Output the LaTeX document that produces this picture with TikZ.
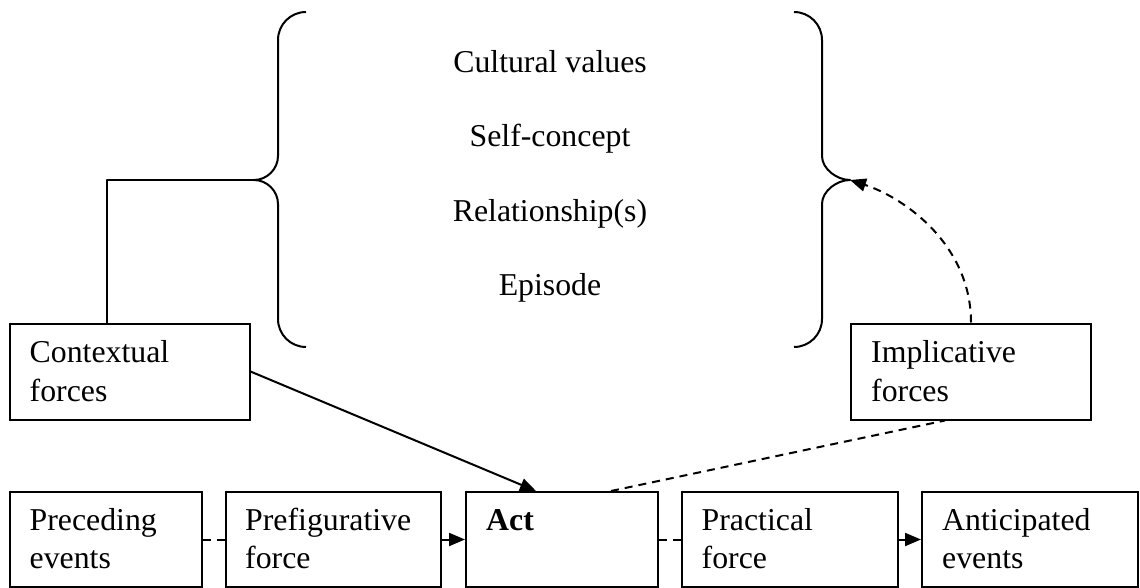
\documentclass[tikz,border=0pt]{standalone}
\usepackage{fontspec}
\setmainfont{Liberation Serif}
\usetikzlibrary{arrows.meta}
% text block whose first baseline sits 24pt below its top edge
\newcommand\boxtext[1]{\parbox[t]{230pt}{\rule{0pt}{24pt}#1}}
\begin{document}
\begin{tikzpicture}[x=1pt,y=-1pt,
  frame/.style={draw, line width=2pt, inner sep=0pt, minimum height=95pt},
  lbl/.style={anchor=north west, inner sep=0pt, font=\fontsize{31.8}{38.5}\selectfont},
  item/.style={anchor=base, inner sep=0pt, font=\fontsize{31.8}{38}\selectfont},
  conn/.style={line width=2pt, line join=round},
  dashline/.style={conn, dash pattern=on 8pt off 6pt},
  arrowed/.style={-{Triangle[length=16pt,width=13pt]}},
]
\useasboundingbox (0,0) rectangle (1140,588);

% force boxes
\node[frame, minimum width=240pt, minimum height=96pt] (ctx)  at (129.5,371.5) {};
\node[frame, minimum width=240pt, minimum height=96pt] (impl) at (971,371.5)   {};

% sequence of events along the bottom
\node[frame, minimum width=192pt] (prec) at (105.5,539.5) {};
\node[frame, minimum width=215pt] (pref) at (333.5,539.5) {};
\node[frame, minimum width=192pt] (act)  at (562,539.5)   {};
\node[frame, minimum width=216pt] (prac) at (790,539.5)   {};
\node[frame, minimum width=216pt] (anti) at (1030,539.5)  {};

% box captions
\node[lbl] (ctxT)  at ([xshift=21pt,yshift=-16pt]ctx.north west)  {\boxtext{Contextual\\forces}};
\node[lbl] (implT) at ([xshift=21pt,yshift=-16pt]impl.north west) {\boxtext{Implicative\\forces}};
\node[lbl] (precT) at ([xshift=21pt,yshift=-15pt]prec.north west) {\boxtext{Preceding\\events}};
\node[lbl] (prefT) at ([xshift=20pt,yshift=-15pt]pref.north west) {\boxtext{Prefigurative\\force}};
\node[lbl] (actT)  at ([xshift=21pt,yshift=-15pt]act.north west)  {\boxtext{\textbf{Act}}};
\node[lbl] (pracT) at ([xshift=20.5pt,yshift=-15pt]prac.north west) {\boxtext{Practical\\force}};
\node[lbl] (antiT) at ([xshift=21pt,yshift=-15pt]anti.north west) {\boxtext{Anticipated\\events}};

% levels of context between the braces
\node[item] (cv) at (550,73)  {Cultural values};
\node[item] (sc) at (550,147) {Self-concept};
\node[item] (rl) at (550,222) {Relationship(s)};
\node[item] (ep) at (550,295) {Episode};

% brace tips
\coordinate (lbt) at (254,180);
\coordinate (rbt) at (850,180);

% left brace
\draw[conn] (306,12) .. controls (290.5,12) and (278,24.5) .. (278,40)
  -- (278,156) .. controls (278,169) and (267,180) .. (lbt)
  .. controls (267,180) and (278,191) .. (278,204)
  -- (278,319) .. controls (278,334.5) and (290.5,347) .. (306,347);
% right brace
\draw[conn] (794,12) .. controls (809.5,12) and (822,24.5) .. (822,40)
  -- (822,156) .. controls (822,169) and (837,180) .. (rbt)
  .. controls (837,180) and (822,191) .. (822,204)
  -- (822,319) .. controls (822,334.5) and (809.5,347) .. (794,347);

% connectors
\draw[conn] ([xshift=-23pt]ctx.north) |- (lbt);
\draw[conn, arrowed] (ctx.east) -- ([xshift=-26pt]act.north);
\draw[dashline] ([xshift=49pt]act.north) -- ([xshift=-26pt]impl.south);
\draw[dashline, arrowed] (impl.north) .. controls (971,245) and (905,198) .. (rbt);

\draw[dashline] (prec.east) -- (pref.west);
\draw[dashline, arrowed] (pref.east) -- (act.west);
\draw[dashline] (act.east) -- (prac.west);
\draw[conn, arrowed] (prac.east) -- (anti.west);
\end{tikzpicture}
\end{document}
